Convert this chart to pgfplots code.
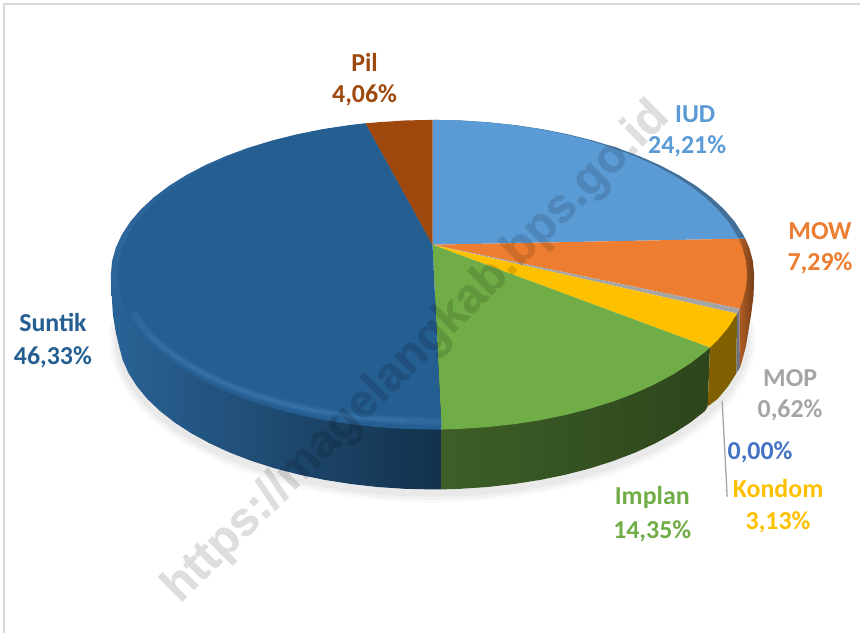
\documentclass[border=0pt]{standalone}
\usepackage{pgfplots}
\pgfplotsset{compat=1.18}
\usepackage{fontspec}
\setmainfont{Carlito}
\newfontfamily\wmfont[BoldFeatures={FakeBold=0.8}]{Liberation Sans}
\definecolor{cIUD}{HTML}{5B9BD5}
\definecolor{cMOW}{HTML}{ED7D31}
\definecolor{cMOP}{HTML}{A5A5A5}
\definecolor{cKON}{HTML}{FFC000}
\definecolor{cIMP}{HTML}{70AD47}
\definecolor{cSUN}{HTML}{255E91}
\definecolor{cPIL}{HTML}{9E480E}
\definecolor{cZER}{HTML}{4472C4}
\tikzset{lab/.style={font=\fontsize{26}{26}\selectfont\bfseries, anchor=center, inner sep=0pt}}
\begin{document}
\begin{tikzpicture}
\begin{axis}[
  width=861bp, height=634bp, scale only axis,
  xmin=0, xmax=861, ymin=0, ymax=634, y dir=reverse,
  hide axis, clip=false,
  every axis plot/.append style={no markers, line join=round, line cap=round},
]
% page corners and frame
\addplot[draw=white, line width=0pt] coordinates {(0,0)(861,0)(861,634)(0,634)};
\addplot[draw=black!15, line width=2bp, line cap=butt] coordinates {(4,634)(4,4)(861,4)};
% soft shadow
\addplot[draw=black, opacity=.02, line width=19bp, shift={(0,-4bp)}] coordinates {(118,325)(119.2,346.7)(122.8,360.3)(128.7,373.6)(137,386.7)(147.5,399.4)(160.2,411.5)(175,423.1)(191.7,433.9)(210.3,444)(230.5,453.3)(252.3,461.6)(275.5,469)(299.9,475.3)(325.3,480.5)(351.5,484.6)(378.3,487.6)(405.5,489.4)(433,490)(460.5,489.4)(487.7,487.6)(514.5,484.6)(540.7,480.5)(566.1,475.3)(590.5,469)(613.7,461.6)(635.5,453.3)(655.7,444)(674.3,433.9)(691,423.1)(705.8,411.5)(718.5,399.4)(729,386.7)(737.3,373.6)(743.2,360.3)(746.8,346.7)(747,325)};
\addplot[draw=black, opacity=.03, line width=13bp, shift={(0,-4bp)}] coordinates {(118,325)(119.2,346.7)(122.8,360.3)(128.7,373.6)(137,386.7)(147.5,399.4)(160.2,411.5)(175,423.1)(191.7,433.9)(210.3,444)(230.5,453.3)(252.3,461.6)(275.5,469)(299.9,475.3)(325.3,480.5)(351.5,484.6)(378.3,487.6)(405.5,489.4)(433,490)(460.5,489.4)(487.7,487.6)(514.5,484.6)(540.7,480.5)(566.1,475.3)(590.5,469)(613.7,461.6)(635.5,453.3)(655.7,444)(674.3,433.9)(691,423.1)(705.8,411.5)(718.5,399.4)(729,386.7)(737.3,373.6)(743.2,360.3)(746.8,346.7)(747,325)};
\addplot[draw=black, opacity=.04, line width=7bp, shift={(0,-4bp)}] coordinates {(118,325)(119.2,346.7)(122.8,360.3)(128.7,373.6)(137,386.7)(147.5,399.4)(160.2,411.5)(175,423.1)(191.7,433.9)(210.3,444)(230.5,453.3)(252.3,461.6)(275.5,469)(299.9,475.3)(325.3,480.5)(351.5,484.6)(378.3,487.6)(405.5,489.4)(433,490)(460.5,489.4)(487.7,487.6)(514.5,484.6)(540.7,480.5)(566.1,475.3)(590.5,469)(613.7,461.6)(635.5,453.3)(655.7,444)(674.3,433.9)(691,423.1)(705.8,411.5)(718.5,399.4)(729,386.7)(737.3,373.6)(743.2,360.3)(746.8,346.7)(747,325)};
% side walls
\addplot[draw=none, fill=cSUN!88!cIUD] coordinates {(433,245)(366,123.5)(349.7,125.3)(323,129.3)(296.9,134.5)(272,140.8)(248.3,148)(226,156.3)(205.3,165.4)(186.3,175.4)(169.2,186.1)(154.1,197.5)(141.2,209.5)(130.4,222)(122,234.9)(115.9,248.1)(112.2,261.5)(111,275)(111.5,295)(300,295)} -- cycle;
\addplot[draw=none, left color=cSUN!92!cIUD, middle color=cSUN!88!black, right color=cSUN!52!black] coordinates {(442,300)(111.5,290)(113,315)(116,333)(119.2,346.7)(122.8,360.3)(128.7,373.6)(137,386.7)(147.5,399.4)(160.2,411.5)(175,423.1)(191.7,433.9)(210.3,444)(230.5,453.3)(252.3,461.6)(275.5,469)(299.9,475.3)(325.3,480.5)(351.5,484.6)(378.3,487.6)(405.5,489.4)(433,490)(442,490)} -- cycle;
\addplot[draw=none, left color=cIMP!55!black, right color=cIMP!40!black] coordinates {(442,430)(442,490)(460.5,489.4)(487.7,487.6)(514.5,484.6)(540.7,480.5)(566.1,475.3)(590.5,469)(613.7,461.6)(635.5,453.3)(655.7,444)(674.3,433.9)(691,423.1)(705.8,411.5)(708.5,407)(710.8,348)} -- cycle;
\addplot[draw=none, fill=cKON!50!black] coordinates {(710.8,348)(708.5,407)(718.5,399.4)(729,386.7)(737.3,373.6)(737.8,314)} -- cycle;
\addplot[draw=none, fill=cMOP!70!black!85!cZER] coordinates {(737.8,314)(737.3,373.6)(740.7,368.3)(740.3,309)} -- cycle;
\addplot[draw=none, left color=cMOW!75!black, right color=cMOW!50!black] coordinates {(740.3,309)(740.7,368.3)(743.2,360.3)(746.8,346.7)(749,333)(752,315)(754.5,295)(755,275)(753.8,261.5)(750.1,248.1)(746.2,239)(739.4,239)} -- cycle;
\addplot[draw=none, fill=cIUD!72!black] coordinates {(739.4,239)(746.2,239)(744,234.9)(735.6,222)(724.8,209.5)(711.9,197.5)(696.8,186.1)(679.7,175.4)(660.7,165.4)(640,156.3)(617.7,148)(594,140.8)(569,134.5)(543,129.3)(516.3,125.3)(489,122.4)(461,120.6)(433,120)} -- cycle;
% top face slices
\addplot[draw=none, fill=cIUD] coordinates {(433,245)(433,120)(460.5,120.6)(487.7,122.4)(514.5,125.3)(540.7,129.3)(566.1,134.5)(590.5,140.8)(613.7,148)(635.5,156.3)(655.7,165.4)(674.3,175.4)(691,186.1)(705.8,197.5)(718.5,209.5)(729,222)(737.3,234.9)(739.4,239)} -- cycle;
\addplot[draw=none, fill=cMOW] coordinates {(433,245)(739.4,239)(743.2,248.1)(746.8,261.5)(748,275)(746.8,288.5)(743.2,301.9)(740.3,309)} -- cycle;
\addplot[draw=none, fill=cMOP] coordinates {(433,245)(740.3,309)(737.8,314)} -- cycle;
\addplot[draw=none, fill=cKON] coordinates {(433,245)(737.8,314)(729,328)(718.5,340.5)(710.8,348)} -- cycle;
\addplot[draw=none, fill=cIMP] coordinates {(433,245)(710.8,348)(705.8,352.5)(691,363.9)(674.3,374.6)(655.7,384.6)(635.5,393.7)(613.7,402)(590.5,409.2)(566.1,415.5)(540.7,420.7)(514.5,424.7)(487.7,427.6)(460.5,429.4)(442,430)} -- cycle;
\addplot[draw=none, fill=cSUN] coordinates {(433,245)(442,430)(433,430)(405.5,429.4)(378.3,427.6)(351.5,424.7)(325.3,420.7)(299.9,415.5)(275.5,409.2)(252.3,402)(230.5,393.7)(210.3,384.6)(191.7,374.6)(175,363.9)(160.2,352.5)(147.5,340.5)(137,328)(128.7,315.1)(122.8,301.9)(119.2,288.5)(118,275)(119.2,261.5)(122.8,248.1)(128.7,234.9)(137,222)(147.5,209.5)(160.2,197.5)(175,186.1)(191.7,175.4)(210.3,165.4)(230.5,156.3)(252.3,148)(275.5,140.8)(299.9,134.5)(325.3,129.3)(351.5,125.3)(366,123.5)} -- cycle;
\addplot[draw=none, fill=cPIL] coordinates {(433,245)(366,123.5)(378.3,122.4)(405.5,120.6)(433,120)} -- cycle;
% bevel highlight on the Suntik rim
\addplot[draw=cIUD!60!cSUN, opacity=.13, line width=9bp, smooth] coordinates {(135,316)(150.2,336)(177.4,358)(212.4,378)(254,395)(301.1,408)(352.3,417)(405.8,421)(440,422)};
\addplot[draw=cIUD!60!cSUN, opacity=.2, line width=6bp, smooth] coordinates {(135,316)(150.2,336)(177.4,358)(212.4,378)(254,395)(301.1,408)(352.3,417)(405.8,421)(440,422)};
\addplot[draw=cIUD!60!cSUN, opacity=.3, line width=3bp, smooth] coordinates {(150.2,336)(177.4,358)(212.4,378)(254,395)(301.1,408)(352.3,417)(405.8,421)};
% leader line
\addplot[draw=cMOP, line width=1.3bp] coordinates {(723,402)(728,497)};
% labels
\node[lab, text=cPIL] at (axis cs:365,62.5) {Pil};
\node[lab, text=cPIL] at (axis cs:365,95) {4,06\%};
\node[lab, text=cIUD] at (axis cs:696,114) {IUD};
\node[lab, text=cIUD] at (axis cs:688,147) {24,21\%};
\node[lab, text=cMOW] at (axis cs:821,231) {MOW};
\node[lab, text=cMOW] at (axis cs:821,264) {7,29\%};
\node[lab, text=cMOP] at (axis cs:791,379) {MOP};
\node[lab, text=cMOP] at (axis cs:791,411) {0,62\%};
\node[lab, text=cZER] at (axis cs:761,453) {0,00\%};
\node[lab, text=cKON] at (axis cs:779,489.5) {Kondom};
\node[lab, text=cKON] at (axis cs:779,523) {3,13\%};
\node[lab, text=cIMP] at (axis cs:653,498) {Implan};
\node[lab, text=cIMP] at (axis cs:653,532) {14,35\%};
\node[lab, text=cSUN] at (axis cs:53,323) {Suntik};
\node[lab, text=cSUN] at (axis cs:53,358) {46,33\%};
% watermark
\begin{scope}[transparency group, opacity=.13]
\node[text=black, rotate=44.7, font=\wmfont\fontsize{48}{48}\selectfont\bfseries, inner sep=0pt] at (axis cs:417,353) {https://magelangkab.bps.go.id};
\end{scope}
\end{axis}
\end{tikzpicture}
\end{document}
